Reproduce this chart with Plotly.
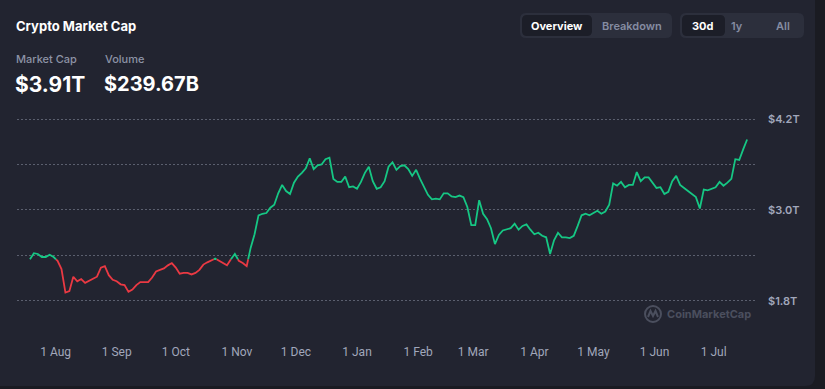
import pandas as pd
import plotly.graph_objects as go

# ---------------- data ----------------
start_date = "2024-07-19"
market_cap_t = [
    2.35, 2.43, 2.42, 2.38, 2.38, 2.41, 2.38, 2.33, 2.22, 1.91,
    1.93, 2.12, 2.06, 2.09, 2.04, 2.07, 2.09, 2.12, 2.24, 2.26,
    2.14, 2.08, 2.06, 2.02, 2.01, 1.92, 1.95, 2.01, 2.05, 2.05,
    2.05, 2.11, 2.19, 2.21, 2.23, 2.27, 2.30, 2.24, 2.16, 2.17,
    2.17, 2.15, 2.17, 2.21, 2.28, 2.31, 2.33, 2.36, 2.33, 2.30,
    2.27, 2.35, 2.42, 2.33, 2.30, 2.26, 2.50, 2.68, 2.93, 2.95,
    2.96, 3.03, 3.07, 3.22, 3.33, 3.25, 3.21, 3.36, 3.44, 3.49,
    3.55, 3.68, 3.54, 3.59, 3.60, 3.67, 3.69, 3.41, 3.37, 3.37,
    3.44, 3.30, 3.31, 3.28, 3.37, 3.49, 3.57, 3.38, 3.28, 3.30,
    3.38, 3.57, 3.63, 3.53, 3.58, 3.59, 3.54, 3.45, 3.53, 3.41,
    3.30, 3.20, 3.14, 3.15, 3.14, 3.22, 3.22, 3.18, 3.17, 3.19,
    3.17, 3.04, 2.80, 2.80, 3.13, 2.95, 2.88, 2.76, 2.55, 2.67,
    2.73, 2.75, 2.76, 2.82, 2.74, 2.79, 2.81, 2.74, 2.68, 2.70,
    2.66, 2.64, 2.42, 2.60, 2.70, 2.64, 2.64, 2.63, 2.66, 2.79,
    2.93, 2.95, 2.93, 2.96, 2.99, 2.95, 2.98, 3.07, 3.35, 3.32,
    3.37, 3.30, 3.33, 3.33, 3.50, 3.38, 3.43, 3.43, 3.36, 3.29,
    3.30, 3.21, 3.24, 3.38, 3.45, 3.33, 3.29, 3.25, 3.22, 3.17,
    3.02, 3.27, 3.26, 3.28, 3.30, 3.37, 3.32, 3.36, 3.41, 3.67,
    3.66, 3.80, 3.93,
]
dates = pd.date_range(start_date, periods=len(market_cap_t), freq="2D")

x_tick_vals = ["2024-08-01", "2024-09-01", "2024-10-01", "2024-11-01", "2024-12-01",
               "2025-01-01", "2025-02-01", "2025-03-01", "2025-04-01", "2025-05-01",
               "2025-06-01", "2025-07-01"]
x_tick_text = ["1 Aug", "1 Sep", "1 Oct", "1 Nov", "1 Dec", "1 Jan", "1 Feb",
               "1 Mar", "1 Apr", "1 May", "1 Jun", "1 Jul"]
y_tick_vals = [1.8, 2.4, 3.0, 3.6, 4.2]
y_tick_text = ["$1.8T", "", "$3.0T", "", "$4.2T"]

title_text = "Crypto Market Cap"
stat_labels = ["Market Cap", "Volume"]
stat_values = ["$3.91T", "$239.67B"]
view_buttons = ["Overview", "Breakdown"]
range_buttons = ["30d", "1y", "All"]

# ---------------- styles ----------------
W, H = 825, 389
L, R, T, B = 17, 70, 108, 73
PW, PH = W - L - R, H - T - B
OUTER = "#1a1b22"
CARD = "#222430"
GREEN = "#16c784"
RED = "#ea3943"
GRAY = "#a1a7bb"
FONT = "Inter"


def px(x):
    return (x - L) / PW


def py(y):
    return 1 - (y - T) / PH


def rrect(x0, y0, x1, y1, r):
    pts = [
        f"M{px(x0 + r)},{py(y0)}",
        f"L{px(x1 - r)},{py(y0)}",
        f"Q{px(x1)},{py(y0)} {px(x1)},{py(y0 + r)}",
        f"L{px(x1)},{py(y1 - r)}",
        f"Q{px(x1)},{py(y1)} {px(x1 - r)},{py(y1)}",
        f"L{px(x0 + r)},{py(y1)}",
        f"Q{px(x0)},{py(y1)} {px(x0)},{py(y1 - r)}",
        f"L{px(x0)},{py(y0 + r)}",
        f"Q{px(x0)},{py(y0)} {px(x0 + r)},{py(y0)}",
        "Z",
    ]
    return " ".join(pts)


# ---------------- split line into above / below first value ----------------
base = market_cap_t[0]
pts = [(dates[0], market_cap_t[0])]
for i in range(1, len(market_cap_t)):
    v0, v1 = market_cap_t[i - 1], market_cap_t[i]
    if (v0 - base) * (v1 - base) < 0:
        t = (base - v0) / (v1 - v0)
        pts.append((dates[i - 1] + (dates[i] - dates[i - 1]) * t, base))
    pts.append((dates[i], v1))

gx = [p[0] for p in pts]
gy = [p[1] if p[1] >= base else None for p in pts]
ry = [p[1] if p[1] <= base else None for p in pts]

fig = go.Figure()
fig.add_trace(go.Scatter(x=gx, y=ry, mode="lines", line=dict(color=RED, width=1.8),
                         connectgaps=False, hoverinfo="skip", showlegend=False))
fig.add_trace(go.Scatter(x=gx, y=gy, mode="lines", line=dict(color=GREEN, width=1.8),
                         connectgaps=False, hoverinfo="skip", showlegend=False))

shapes = []
# card
shapes.append(dict(type="path", path=rrect(-20, -20, 815, 386, 10), xref="paper", yref="paper",
                   fillcolor=CARD, line=dict(width=0), layer="below"))
# button groups
shapes.append(dict(type="path", path=rrect(520, 13, 672, 38, 6), xref="paper", yref="paper",
                   fillcolor="#2c2f3c", line=dict(width=0), layer="below"))
shapes.append(dict(type="path", path=rrect(522, 15, 592, 36, 5), xref="paper", yref="paper",
                   fillcolor="#1c1e28", line=dict(width=0), layer="below"))
shapes.append(dict(type="path", path=rrect(680, 13, 804, 38, 6), xref="paper", yref="paper",
                   fillcolor="#2c2f3c", line=dict(width=0), layer="below"))
shapes.append(dict(type="path", path=rrect(682, 15, 725, 36, 5), xref="paper", yref="paper",
                   fillcolor="#1c1e28", line=dict(width=0), layer="below"))
# watermark logo
shapes.append(dict(type="circle", xref="paper", yref="paper",
                   x0=px(645), x1=px(661), y0=py(306), y1=py(322),
                   line=dict(color="#4b4f5e", width=2), layer="below"))
shapes.append(dict(type="path", xref="paper", yref="paper",
                   path=f"M{px(648)},{py(317)} L{px(650.5)},{py(311)} L{px(653)},{py(316)} "
                        f"L{px(655.5)},{py(311)} L{px(658)},{py(317)}",
                   line=dict(color="#4b4f5e", width=2), layer="below"))

annotations = []


def txt(s, x, y, size, color, weight=400, anchor="left", family=FONT):
    annotations.append(dict(text=s, x=px(x), y=py(y), xref="paper", yref="paper",
                            xanchor=anchor, yanchor="middle", showarrow=False,
                            font=dict(family=family, size=size, color=color, weight=weight)))


txt(title_text, 14, 26, 13, "#ffffff", 700)
txt(stat_labels[0], 14, 59, 11, "#8d93a6", 500)
txt(stat_labels[1], 103, 59, 11, "#8d93a6", 500)
txt(stat_values[0], 13, 84, 21, "#ffffff", 700)
txt(stat_values[1], 102, 84, 20, "#ffffff", 700)
txt(view_buttons[0], 557, 26, 11, "#ffffff", 700, "center")
txt(view_buttons[1], 632, 26, 11, "#858ca2", 600, "center")
txt(range_buttons[0], 703, 26, 11, "#ffffff", 700, "center")
txt(range_buttons[1], 737, 26, 11, "#858ca2", 600, "center")
txt(range_buttons[2], 783, 26, 11, "#858ca2", 600, "center")
txt("CoinMarketCap", 665, 314, 11, "#4b4f5e", 700)

fig.update_layout(
    width=W, height=H,
    margin=dict(l=L, r=R, t=T, b=B, pad=0),
    paper_bgcolor=OUTER,
    plot_bgcolor="rgba(0,0,0,0)",
    shapes=shapes,
    annotations=annotations,
    showlegend=False,
    xaxis=dict(
        type="date", range=["2024-07-12 10:00", "2025-07-22"],
        tickvals=x_tick_vals, ticktext=x_tick_text, showgrid=False, zeroline=False,
        showline=False, ticks="", ticklabelstandoff=27,
        tickfont=dict(family="Roboto", size=12, color=GRAY),
        fixedrange=True,
    ),
    yaxis=dict(
        range=[1.602, 4.345], side="right", tickvals=y_tick_vals, ticktext=y_tick_text,
        showgrid=True, gridcolor="#5b5f6e", gridwidth=1, griddash="2px,2px",
        zeroline=False, showline=False, ticks="", ticklabelstandoff=12,
        tickfont=dict(family=FONT, size=11, color=GRAY, weight=600),
        fixedrange=True,
    ),
)

fig.write_html(
    "out.html",
    config={"displayModeBar": False},
    post_script="document.body.style.margin='0';document.body.style.overflow='hidden';",
)
